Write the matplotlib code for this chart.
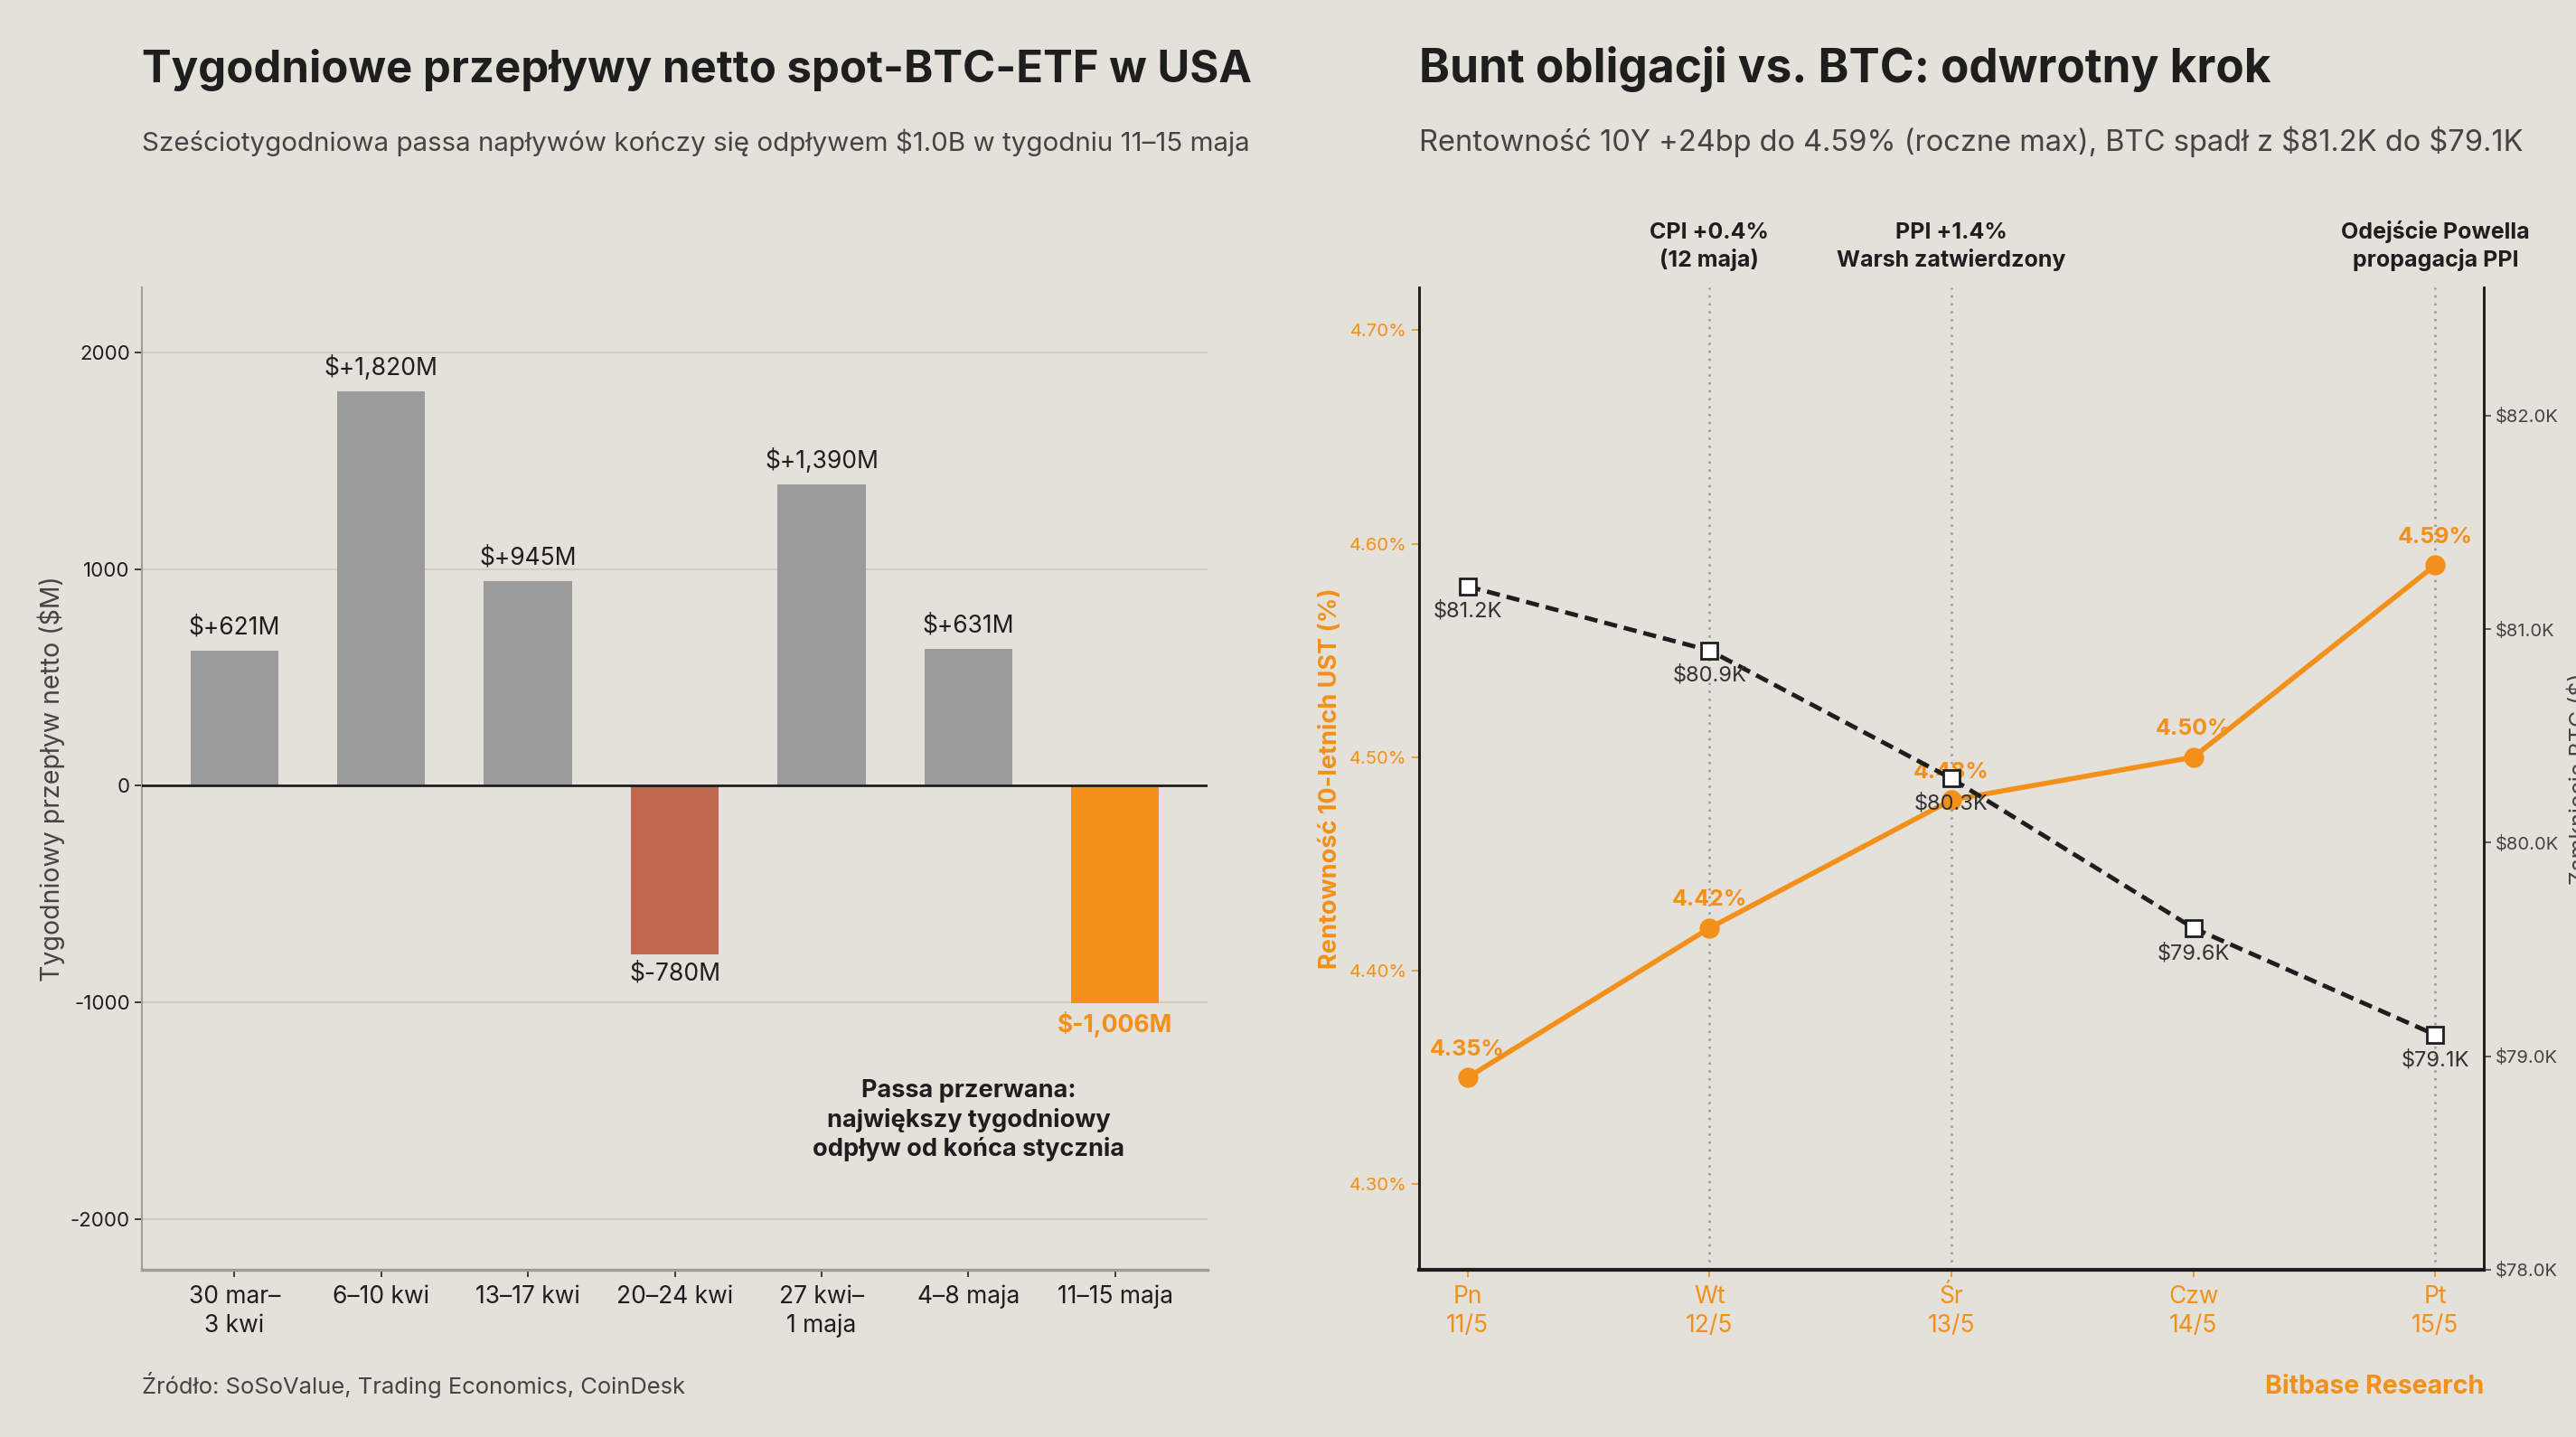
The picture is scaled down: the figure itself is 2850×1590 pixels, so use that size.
import matplotlib.pyplot as plt
import numpy as np

plt.rcParams['font.family'] = ['Inter', 'DejaVu Sans']
plt.rcParams['axes.unicode_minus'] = False

BG = '#E4E0DA'
ORANGE = '#F39019'
GRAY_BAR = '#9B9B9B'
RED_BAR = '#C0654E'
DARK = '#1E1E1E'
TXT = '#444444'

# --- left chart data: weekly spot BTC ETF net flows ($M)
weeks = ['30 mar–\n3 kwi', '6–10 kwi', '13–17 kwi', '20–24 kwi',
         '27 kwi–\n1 maja', '4–8 maja', '11–15 maja']
flows = [621, 1820, 945, -780, 1390, 631, -1006]
flow_labels = ['$+621M', '$+1,820M', '$+945M', '$-780M',
               '$+1,390M', '$+631M', '$-1,006M']

# --- right chart data: 10Y yield vs BTC close
days = ['Pn\n11/5', 'Wt\n12/5', 'Śr\n13/5', 'Czw\n14/5', 'Pt\n15/5']
yields = [4.35, 4.42, 4.48, 4.50, 4.59]
btc = [81200, 80900, 80300, 79600, 79100]
btc_labels = ['$81.2K', '$80.9K', '$80.3K', '$79.6K', '$79.1K']
event_days = [1, 2, 4]
event_texts = ['CPI +0.4%\n(12 maja)', 'PPI +1.4%\nWarsh zatwierdzony',
               'Odejście Powella\npropagacja PPI']

fig = plt.figure(figsize=(28.5, 15.9), dpi=100, facecolor=BG)

# ================= left =================
ax1 = fig.add_axes([0.0551, 0.1164, 0.4137, 0.6836])
ax1.set_facecolor(BG)
x = np.arange(len(weeks))
cols = []
for i, v in enumerate(flows):
    if i == len(flows) - 1:
        cols.append(ORANGE)
    elif v < 0:
        cols.append(RED_BAR)
    else:
        cols.append(GRAY_BAR)
ax1.bar(x, flows, width=0.6, color=cols, zorder=2)
ax1.axhline(0, color=DARK, lw=2, zorder=3)
ax1.set_xlim(-0.63, 6.63)
ax1.set_ylim(-2235, 2300)
ax1.set_yticks([-2000, -1000, 0, 1000, 2000])
ax1.grid(axis='y', color='#D0CBC4', lw=1.5, zorder=0)
ax1.set_axisbelow(True)
ax1.set_xticks(x)
ax1.set_xticklabels(weeks, fontsize=19, color=DARK, linespacing=1.3)
ax1.tick_params(axis='y', labelsize=16, colors=DARK, length=6, width=1.2)
ax1.tick_params(axis='x', length=6, width=1.2, pad=6, colors=DARK)
for s in ['top', 'right']:
    ax1.spines[s].set_visible(False)
ax1.spines['left'].set_color('#A09C97')
ax1.spines['left'].set_linewidth(1.5)
ax1.spines['bottom'].set_color('#A09C97')
ax1.spines['bottom'].set_linewidth(2.5)
ax1.set_ylabel('Tygodniowy przepływ netto ($M)', fontsize=20.5, color=TXT)
ax1.yaxis.set_label_coords(-0.072, 0.5)

for i, (v, lab) in enumerate(zip(flows, flow_labels)):
    last = i == len(flows) - 1
    if v >= 0:
        ax1.annotate(lab, (x[i], v), xytext=(0, 9), textcoords='offset points',
                     ha='center', va='bottom', fontsize=19, color=DARK)
    else:
        ax1.annotate(lab, (x[i], v), xytext=(0, -6), textcoords='offset points',
                     ha='center', va='top', fontsize=19,
                     color=ORANGE if last else DARK,
                     fontweight='bold' if last else 'normal')

ax1.text(5, -1545, 'Passa przerwana:\nnajwiększy tygodniowy\nodpływ od końca stycznia',
         ha='center', va='center', fontsize=19.5, fontweight='bold', color=DARK,
         linespacing=1.25)

# ================= right =================
ax2 = fig.add_axes([0.5509, 0.1164, 0.4133, 0.6836])
ax2.set_facecolor(BG)
ax3 = ax2.twinx()
xd = np.arange(len(days))

for d in event_days:
    ax2.axvline(d, color='#999999', ls=(0, (1, 2.5)), lw=1.8, zorder=1)
for d, t in zip(event_days, event_texts):
    ax2.text(d, 1.017, t, transform=ax2.get_xaxis_transform(), ha='center',
             va='bottom', fontsize=18, fontweight='bold', color=DARK, linespacing=1.3)

ax2.plot(xd, yields, color=ORANGE, lw=4, marker='o', ms=15, zorder=3)
for xi, v in zip(xd, yields):
    ax2.annotate(f'{v:.2f}%', (xi, v), xytext=(0, 14), textcoords='offset points',
                 ha='center', va='bottom', fontsize=18, fontweight='bold', color=ORANGE)

ax3.plot(xd, btc, color=DARK, lw=3.5, ls=(0, (3, 1.6)), marker='s', ms=13,
         mfc='white', mec=DARK, mew=2, zorder=3)
for xi, v, lab in zip(xd, btc, btc_labels):
    ax3.annotate(lab, (xi, v), xytext=(0, -12), textcoords='offset points',
                 ha='center', va='top', fontsize=17, color='#333333')

ax2.set_xlim(-0.2, 4.2)
ax2.set_ylim(4.26, 4.72)
ax3.set_ylim(78000, 82600)
ax2.set_yticks([4.30, 4.40, 4.50, 4.60, 4.70])
ax2.set_yticklabels([f'{t:.2f}%' for t in [4.30, 4.40, 4.50, 4.60, 4.70]])
ax3.set_yticks([78000, 79000, 80000, 81000, 82000])
ax3.set_yticklabels([f'${t/1000:.1f}K' for t in [78000, 79000, 80000, 81000, 82000]])
ax2.set_xticks(xd)
ax2.set_xticklabels(days, fontsize=19, linespacing=1.3)
ax2.tick_params(axis='x', colors=ORANGE, length=6, width=1.2, pad=6)
ax2.tick_params(axis='y', colors=ORANGE, labelsize=14.5, length=6, width=1.2)
ax3.tick_params(axis='y', colors=TXT, labelsize=14.5, length=6, width=1.2)

for a in (ax2, ax3):
    a.spines['top'].set_visible(False)
    for s in ['left', 'right', 'bottom']:
        a.spines[s].set_color(DARK)
        a.spines[s].set_linewidth(2)
ax2.spines['bottom'].set_linewidth(3)

ax2.set_ylabel('Rentowność 10-letnich UST (%)', fontsize=19.5, fontweight='bold',
               color=ORANGE)
ax2.yaxis.set_label_coords(-0.072, 0.5)
# in the reference this label sits at the right edge and is partly cut off
ax3.set_ylabel('Zamknięcie BTC ($)', fontsize=18, color=TXT, rotation=90)
ax3.yaxis.set_label_coords(1.078, 0.5)

# ================= texts =================
fig.text(0.0551, 0.943, 'Tygodniowe przepływy netto spot-BTC-ETF w USA',
         fontsize=35.3, fontweight='bold', color=DARK, va='baseline')
fig.text(0.0551, 0.895,
         'Sześciotygodniowa passa napływów kończy się odpływem $1.0B w tygodniu 11–15 maja',
         fontsize=21.3, color=TXT, va='baseline')
fig.text(0.5509, 0.943, 'Bunt obligacji vs. BTC: odwrotny krok',
         fontsize=37, fontweight='bold', color=DARK, va='baseline')
fig.text(0.5509, 0.895,
         r'Rentowność 10Y +24bp do 4.59% (roczne max), BTC spadł z \$81.2K do \$79.1K',
         fontsize=23.5, color=TXT, va='baseline')
fig.text(0.0551, 0.0302, 'Źródło: SoSoValue, Trading Economics, CoinDesk',
         fontsize=18.4, color=TXT, va='baseline')
fig.text(0.9642, 0.0302, 'Bitbase Research', fontsize=20.5, fontweight='bold',
         color=ORANGE, va='baseline', ha='right')

fig.savefig('out.png', dpi=100, facecolor=BG)
